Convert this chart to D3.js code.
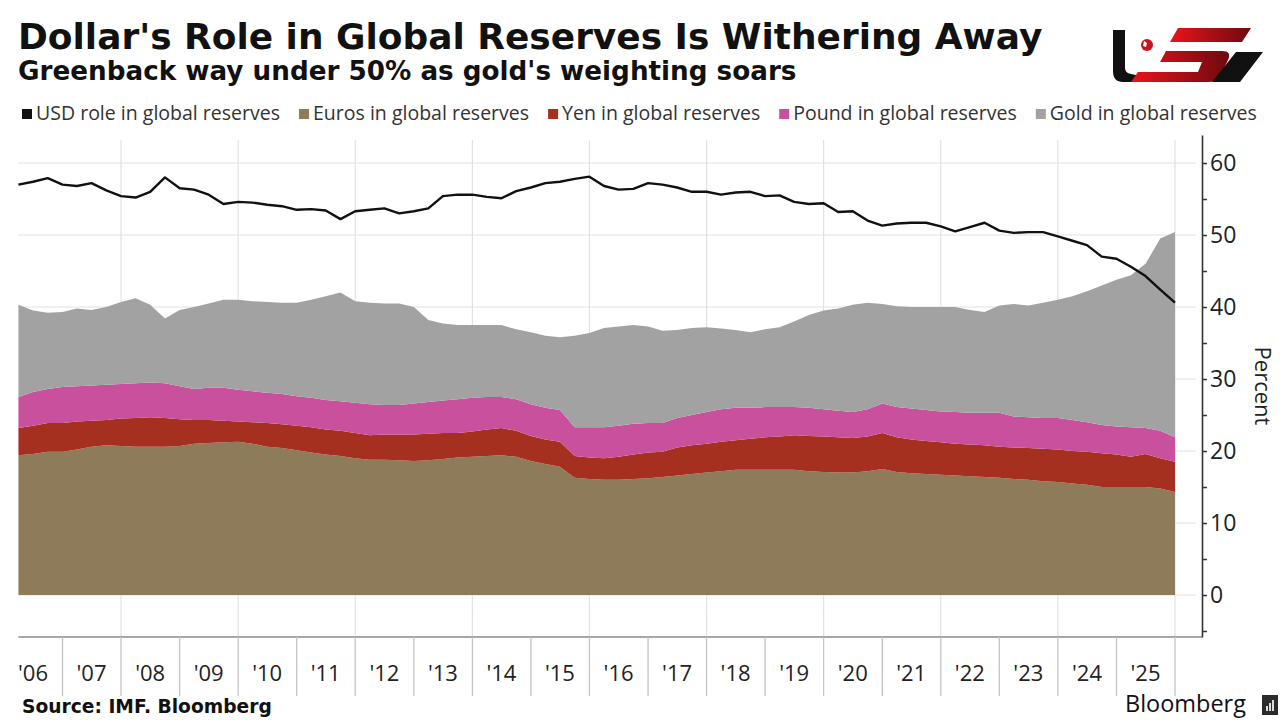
<!DOCTYPE html>
<html>
<head>
<meta charset="utf-8">
<script src="https://cdn.jsdelivr.net/npm/d3@7"></script>
<style>
  body { margin: 0; background: #fff; }
  svg { display: block; }
</style>
</head>
<body>
<svg id="chart" width="1280" height="720"></svg>
<script>

// -----------------------------------------------------------------------------
// Data (quarterly)
// -----------------------------------------------------------------------------

var dates = [
  "2006-04","2006-07","2006-10",
  "2007-01","2007-04","2007-07","2007-10","2008-01","2008-04","2008-07","2008-10",
  "2009-01","2009-04","2009-07","2009-10","2010-01","2010-04","2010-07","2010-10",
  "2011-01","2011-04","2011-07","2011-10","2012-01","2012-04","2012-07","2012-10",
  "2013-01","2013-04","2013-07","2013-10","2014-01","2014-04","2014-07","2014-10",
  "2015-01","2015-04","2015-07","2015-10","2016-01","2016-04","2016-07","2016-10",
  "2017-01","2017-04","2017-07","2017-10","2018-01","2018-04","2018-07","2018-10",
  "2019-01","2019-04","2019-07","2019-10","2020-01","2020-04","2020-07","2020-10",
  "2021-01","2021-04","2021-07","2021-10","2022-01","2022-04","2022-07","2022-10",
  "2023-01","2023-04","2023-07","2023-10","2024-01","2024-04","2024-07","2024-10",
  "2025-01","2025-04","2025-07","2025-10","2026-01"
];

var usd = [
  57.0, 57.4, 57.9, 57.0, 56.8, 57.2, 56.2, 55.4, 55.2, 56.0,
  58.0, 56.5, 56.3, 55.6, 54.3, 54.6, 54.5, 54.2, 54.0, 53.5,
  53.6, 53.4, 52.2, 53.3, 53.5, 53.7, 53.0, 53.3, 53.7, 55.4,
  55.6, 55.6, 55.3, 55.1, 56.1, 56.6, 57.2, 57.4, 57.8, 58.1,
  56.8, 56.3, 56.4, 57.2, 57.0, 56.6, 56.0, 56.0, 55.6, 55.9,
  56.0, 55.4, 55.5, 54.6, 54.3, 54.4, 53.2, 53.3, 52.0, 51.3,
  51.6, 51.7, 51.7, 51.2, 50.5, 51.1, 51.7, 50.6, 50.3, 50.4,
  50.4, 49.8, 49.2, 48.6, 47.0, 46.7, 45.6, 44.3, 42.4, 40.6
];

var euro = [
  19.4, 19.6, 19.9, 19.9, 20.2, 20.6, 20.8, 20.7, 20.6, 20.6,
  20.6, 20.7, 21.0, 21.1, 21.2, 21.3, 21.0, 20.6, 20.4, 20.1,
  19.8, 19.5, 19.3, 19.0, 18.8, 18.8, 18.7, 18.6, 18.7, 18.9,
  19.1, 19.2, 19.3, 19.4, 19.2, 18.6, 18.2, 17.8, 16.3, 16.1,
  16.0, 16.0, 16.1, 16.2, 16.4, 16.6, 16.8, 17.0, 17.2, 17.4,
  17.4, 17.4, 17.4, 17.4, 17.2, 17.1, 17.0, 17.0, 17.2, 17.5,
  17.1, 16.9, 16.8, 16.7, 16.6, 16.5, 16.4, 16.3, 16.1, 16.0,
  15.8, 15.7, 15.5, 15.3, 15.0, 15.0, 15.0, 15.0, 14.8, 14.3
];

var yen = [
  3.8, 3.9, 4.0, 4.0, 3.9, 3.6, 3.5, 3.8, 4.0, 4.1,
  4.0, 3.7, 3.3, 3.2, 3.0, 2.8, 3.0, 3.3, 3.3, 3.4,
  3.5, 3.5, 3.5, 3.5, 3.4, 3.5, 3.6, 3.7, 3.7, 3.6,
  3.4, 3.5, 3.7, 3.8, 3.6, 3.5, 3.4, 3.5, 3.0, 3.0,
  3.0, 3.2, 3.4, 3.6, 3.5, 3.9, 4.0, 4.0, 4.1, 4.1,
  4.3, 4.5, 4.6, 4.8, 4.9, 4.9, 4.9, 4.8, 4.8, 5.0,
  4.8, 4.7, 4.6, 4.5, 4.4, 4.4, 4.4, 4.3, 4.4, 4.4,
  4.5, 4.5, 4.5, 4.6, 4.7, 4.5, 4.2, 4.6, 4.2, 4.2
];

var pound = [
  4.3, 4.7, 4.7, 5.0, 4.9, 4.9, 4.9, 4.8, 4.8, 4.8,
  4.8, 4.6, 4.3, 4.5, 4.6, 4.4, 4.3, 4.2, 4.2, 4.1,
  4.1, 4.1, 4.1, 4.2, 4.3, 4.1, 4.1, 4.3, 4.4, 4.5,
  4.7, 4.7, 4.5, 4.3, 4.4, 4.4, 4.4, 4.4, 4.0, 4.2,
  4.3, 4.3, 4.3, 4.1, 4.0, 4.1, 4.2, 4.4, 4.5, 4.5,
  4.3, 4.2, 4.1, 3.9, 3.9, 3.8, 3.7, 3.6, 3.8, 4.1,
  4.2, 4.3, 4.3, 4.3, 4.4, 4.4, 4.5, 4.7, 4.3, 4.3,
  4.3, 4.4, 4.3, 4.1, 3.9, 3.9, 4.1, 3.6, 3.8, 3.4
];

var gold = [
  12.8, 11.3, 10.6, 10.4, 10.8, 10.5, 10.8, 11.4, 11.8, 10.8,
  9.0, 10.6, 11.4, 11.7, 12.2, 12.5, 12.5, 12.6, 12.7, 13.0,
  13.6, 14.4, 15.1, 14.1, 14.1, 14.1, 14.1, 13.4, 11.4, 10.7,
  10.3, 10.1, 10.0, 10.0, 9.7, 10.0, 10.0, 10.1, 12.7, 13.1,
  13.8, 13.8, 13.7, 13.4, 12.8, 12.2, 12.1, 11.8, 11.2, 10.8,
  10.5, 10.8, 11.1, 11.9, 12.9, 13.7, 14.2, 14.9, 14.8, 13.8,
  14.0, 14.1, 14.3, 14.5, 14.6, 14.3, 14.0, 14.9, 15.6, 15.5,
  16.0, 16.4, 17.2, 18.2, 19.4, 20.4, 21.1, 22.8, 26.7, 28.5
];

var yearLabels = ["'06","'07","'08","'09","'10","'11","'12","'13","'14","'15",
                  "'16","'17","'18","'19","'20","'21","'22","'23","'24","'25"];
var labelYears = d3.range(2006, 2026);
var gridYears = [2008, 2010, 2012, 2014, 2016, 2018, 2020, 2022, 2024, 2026];
var yTicks = [0, 10, 20, 30, 40, 50, 60];

var legendNames = ["USD role in global reserves", "Euros in global reserves",
  "Yen in global reserves", "Pound in global reserves", "Gold in global reserves"];
var legendColors = ["#111111", "#8d7b59", "#a6301f", "#c9509c", "#a2a2a2"];
var stackKeys = ["euro", "yen", "pound", "gold"];
var stackColors = ["#8d7b59", "#a6301f", "#c9509c", "#a2a2a2"];

// -----------------------------------------------------------------------------
// Setup
// -----------------------------------------------------------------------------

var parseMonth = d3.timeParse("%Y-%m");
var data = dates.map(function(d, i) {
  return {date: parseMonth(d), usd: usd[i], euro: euro[i], yen: yen[i],
          pound: pound[i], gold: gold[i]};
});

var svg = d3.select("#chart");

var xScale = d3.scaleTime()
    .domain([new Date(2006, 0, 1), new Date(2026, 0, 1)])
    .range([4, 1175]);

var yScale = d3.scaleLinear()
    .domain([0, 60])
    .range([595, 163]);

var plotLeft = xScale(data[0].date),
    gridTop = 140,
    axisX = 1202,
    axisBottom = 637;

function fitText(sel, target) {
  var size = parseFloat(sel.style("font-size"));
  var w = sel.node().getComputedTextLength();
  sel.style("font-size", (size * target / w) + "px");
}

// -----------------------------------------------------------------------------
// Titles
// -----------------------------------------------------------------------------

var title = svg.append("text")
    .attr("x", 18).attr("y", 49)
    .style("font-family", "DejaVu Sans").style("font-weight", "bold")
    .style("font-size", "34px").attr("fill", "#111")
    .text("Dollar's Role in Global Reserves Is Withering Away");
fitText(title, 1025);

var subtitle = svg.append("text")
    .attr("x", 18).attr("y", 80)
    .style("font-family", "DejaVu Sans").style("font-weight", "bold")
    .style("font-size", "23px").attr("fill", "#111")
    .text("Greenback way under 50% as gold's weighting soars");
fitText(subtitle, 779);

// logo (top right)
var logo = svg.append("g");
var grad = svg.append("defs").append("linearGradient")
    .attr("id", "redgrad").attr("x1", "0").attr("x2", "1");
grad.append("stop").attr("offset", "0").attr("stop-color", "#e8141c");
grad.append("stop").attr("offset", "1").attr("stop-color", "#6e0a0e");
logo.append("path")
    .attr("d", "M1113,30 L1125,30 L1125,68 Q1125,73 1131,74 L1140,76 L1135,82 L1123,82 Q1113,82 1113,71 Z")
    .attr("fill", "#111");
logo.append("path")
    .attr("d", "M1178,28 L1251,28 L1242,42 L1170,42 Z")
    .attr("fill", "url(#redgrad)");
logo.append("path")
    .attr("d", "M1166,51 L1222,51 Q1232,51 1228,60 L1220,76 Q1217,82 1208,82 L1131,82 L1138,72 L1198,72 L1202,62 L1160,62 Z")
    .attr("fill", "url(#redgrad)");
logo.append("path")
    .attr("d", "M1236,52 L1263,52 L1240,82 L1212,82 Z")
    .attr("fill", "#111");
logo.append("circle").attr("cx", 1147).attr("cy", 45).attr("r", 6).attr("fill", "#c8141c");
logo.append("path").attr("d", "M1144,41 l3,2 l-1,4 l-3,-1 Z").attr("fill", "#fff");

// -----------------------------------------------------------------------------
// Legend
// -----------------------------------------------------------------------------

var legend = svg.append("g");
var swatchGap = 14, itemGap = 19;
var legendTexts = legendNames.map(function(name, i) {
  return legend.append("text")
      .attr("y", 120)
      .style("font-family", "Open Sans").style("font-size", "17px")
      .attr("fill", "#333")
      .text(name);
});
var textTotal = d3.sum(legendTexts, function(t) { return t.node().getComputedTextLength(); });
var avail = (1258 - 22) - legendNames.length * swatchGap - (legendNames.length - 1) * itemGap;
var legendSize = 17 * avail / textTotal;
var lx = 22;
legendTexts.forEach(function(t, i) {
  t.style("font-size", legendSize + "px");
  legend.append("rect")
      .attr("x", lx).attr("y", 109).attr("width", 10).attr("height", 10)
      .attr("fill", legendColors[i]);
  t.attr("x", lx + swatchGap);
  lx += swatchGap + t.node().getComputedTextLength() + itemGap;
});

// -----------------------------------------------------------------------------
// Grid
// -----------------------------------------------------------------------------

svg.append("g")
    .selectAll("line")
    .data(yTicks)
  .enter().append("line")
    .attr("x1", plotLeft).attr("x2", 1196)
    .attr("y1", function(d) { return yScale(d); })
    .attr("y2", function(d) { return yScale(d); })
    .attr("stroke", "#e2e2e2").attr("stroke-width", 1.2);

svg.append("g")
    .selectAll("line")
    .data(gridYears)
  .enter().append("line")
    .attr("x1", function(d) { return xScale(new Date(d, 0, 1)); })
    .attr("x2", function(d) { return xScale(new Date(d, 0, 1)); })
    .attr("y1", gridTop).attr("y2", axisBottom)
    .attr("stroke", "#e2e2e2").attr("stroke-width", 1.2);

// -----------------------------------------------------------------------------
// Stacked areas + USD line
// -----------------------------------------------------------------------------

var stack = d3.stack().keys(stackKeys);
var series = stack(data);

var area = d3.area()
    .x(function(d) { return xScale(d.data.date); })
    .y0(function(d) { return yScale(d[0]); })
    .y1(function(d) { return yScale(d[1]); });

svg.append("g")
    .selectAll("path")
    .data(series)
  .enter().append("path")
    .attr("fill", function(d, i) { return stackColors[i]; })
    .attr("d", area);

var line = d3.line()
    .x(function(d) { return xScale(d.date); })
    .y(function(d) { return yScale(d.usd); });

svg.append("path")
    .datum(data)
    .attr("fill", "none")
    .attr("stroke", "#111")
    .attr("stroke-width", 2.4)
    .attr("stroke-linejoin", "round")
    .attr("d", line);

// -----------------------------------------------------------------------------
// Axes
// -----------------------------------------------------------------------------

// x axis baseline and yearly ticks
svg.append("line")
    .attr("x1", plotLeft).attr("x2", axisX)
    .attr("y1", axisBottom).attr("y2", axisBottom)
    .attr("stroke", "#8a8a8a").attr("stroke-width", 1.5);

svg.append("g")
    .selectAll("line")
    .data(d3.range(2007, 2027))
  .enter().append("line")
    .attr("x1", function(d) { return xScale(new Date(d, 0, 1)); })
    .attr("x2", function(d) { return xScale(new Date(d, 0, 1)); })
    .attr("y1", axisBottom).attr("y2", 696)
    .attr("stroke", "#c4c4c4").attr("stroke-width", 1.3);

svg.append("g")
    .selectAll("text")
    .data(labelYears)
  .enter().append("text")
    .attr("x", function(d) { return xScale(new Date(d, 6, 1)); })
    .attr("y", 681)
    .attr("text-anchor", "middle")
    .style("font-family", "Open Sans").style("font-size", "22px")
    .attr("fill", "#222")
    .text(function(d, i) { return yearLabels[i]; });

// y axis on the right
var yAxisScale = yScale.copy()
    .domain([yScale.invert(axisBottom), yScale.invert(135)])
    .range([axisBottom, 135]);

var yAxis = svg.append("g")
    .attr("transform", "translate(" + axisX + ",0)")
    .call(d3.axisRight(yAxisScale)
        .tickValues(d3.range(-5, 61, 5))
        .tickSize(5)
        .tickSizeOuter(0)
        .tickFormat(function(d) { return yTicks.indexOf(d) >= 0 ? d : ""; }));

yAxis.select(".domain").attr("stroke", "#333").attr("stroke-width", 1.6);
yAxis.selectAll(".tick line").attr("stroke", "#333").attr("stroke-width", 1.5);
yAxis.selectAll(".tick text")
    .attr("x", 8)
    .style("font-family", "Open Sans").style("font-size", "23px")
    .attr("fill", "#222");

svg.append("text")
    .attr("transform", "translate(1255,386) rotate(90)")
    .attr("text-anchor", "middle")
    .style("font-family", "Open Sans").style("font-size", "22px")
    .attr("fill", "#222")
    .text("Percent");

// -----------------------------------------------------------------------------
// Footer
// -----------------------------------------------------------------------------

var source = svg.append("text")
    .attr("x", 22).attr("y", 713)
    .style("font-family", "DejaVu Sans").style("font-weight", "bold")
    .style("font-size", "17px").attr("fill", "#111")
    .text("Source: IMF. Bloomberg");
fitText(source, 250);

var brand = svg.append("text")
    .attr("x", 1125).attr("y", 712)
    .style("font-family", "Open Sans").style("font-size", "20px")
    .attr("fill", "#111")
    .text("Bloomberg");
fitText(brand, 121);

svg.append("rect")
    .attr("x", 1262).attr("y", 695).attr("width", 16).attr("height", 20)
    .attr("fill", "#2b2b2b");
svg.append("path")
    .attr("d", "M1266,711 l0,-5 l2,0 l0,5 Z M1269,711 l0,-8 l2,0 l0,8 Z M1272,711 l0,-11 l2,0 l0,11 Z")
    .attr("fill", "#ddd");

</script>
</body>
</html>
